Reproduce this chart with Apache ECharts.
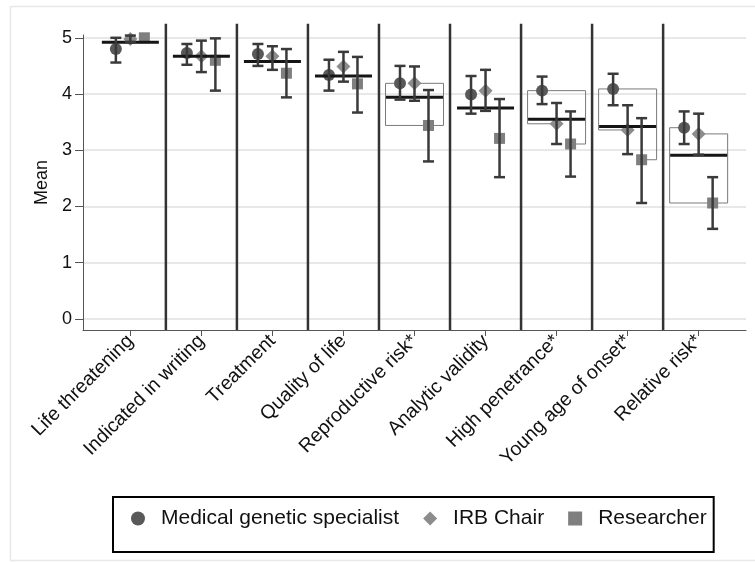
<!DOCTYPE html>
<html>
<head>
<meta charset="utf-8">
<title>Mean rating by criterion</title>
<script src="https://cdn.jsdelivr.net/npm/echarts@6/dist/echarts.min.js"></script>
<style>
html, body { margin: 0; padding: 0; background: #fff; }
#main { width: 755px; height: 562px; }
</style>
</head>
<body>
<div id="main"></div>
<script>
var categories = ['Life threatening', 'Indicated in writing', 'Treatment', 'Quality of life',
    'Reproductive risk*', 'Analytic validity', 'High penetrance*', 'Young age of onset*', 'Relative risk*'];

var groupNames = ['Medical genetic specialist', 'IRB Chair', 'Researcher'];

// Medical genetic specialist (circle)
var mgMean = [4.80, 4.73, 4.71, 4.34, 4.19, 3.99, 4.06, 4.09, 3.40];
var mgLow  = [4.56, 4.52, 4.50, 4.06, 3.90, 3.65, 3.82, 3.80, 3.11];
var mgHigh = [5.00, 4.89, 4.89, 4.61, 4.50, 4.32, 4.31, 4.36, 3.69];

// IRB Chair (diamond)
var irbMean = [4.98, 4.67, 4.67, 4.49, 4.19, 4.06, 3.47, 3.36, 3.29];
var irbLow  = [4.92, 4.39, 4.43, 4.22, 3.88, 3.70, 3.11, 2.93, 2.92];
var irbHigh = [5.04, 4.95, 4.85, 4.75, 4.49, 4.43, 3.84, 3.80, 3.65];

// Researcher (square)
var resMean = [5.00, 4.60, 4.37, 4.18, 3.44, 3.21, 3.11, 2.83, 2.06];
var resLow  = [null, 4.06, 3.94, 3.67, 2.80, 2.52, 2.53, 2.06, 1.60];
var resHigh = [null, 4.99, 4.80, 4.66, 4.07, 3.91, 3.69, 3.57, 2.52];

// mean of all respondents
var overallMean = [4.92, 4.67, 4.58, 4.32, 3.94, 3.75, 3.55, 3.42, 2.91];

var yTicks = [0, 1, 2, 3, 4, 5];

// significant pairs (group indexes) shown with a bracket left / right of the category
var leftPairs  = [null, null, null, null, [0, 2], null, [0, 1], [0, 1], [0, 2]];
var rightPairs = [null, null, null, null, [1, 2], null, [0, 2], [0, 2], [1, 2]];

var FONT = '"Liberation Sans", Arial, sans-serif';
var shift = [-14.5, 0, 14];       // px offset of each group inside a category
var means = [mgMean, irbMean, resMean];
var xTicks = categories.map(function (c, i) { return i + 1; });

var chart = echarts.init(document.getElementById('main'));

function errorBars(low, high, dx) {
    var data = [];
    for (var i = 0; i < categories.length; i++) {
        if (low[i] != null) data.push([i + 1, low[i], high[i]]);
    }
    return {
        type: 'custom', z: 6, silent: true, data: data,
        encode: {x: 0, y: [1, 2]},
        renderItem: function (params, api) {
            var top = api.coord([api.value(0), api.value(2)]);
            var bot = api.coord([api.value(0), api.value(1)]);
            var x = top[0] + dx;
            var st = {stroke: '#3a3a3a', lineWidth: 2.5};
            return {type: 'group', children: [
                {type: 'line', shape: {x1: x, y1: top[1], x2: x, y2: bot[1]}, style: st},
                {type: 'line', shape: {x1: x - 5.5, y1: top[1], x2: x + 5.5, y2: top[1]}, style: st},
                {type: 'line', shape: {x1: x - 5.5, y1: bot[1], x2: x + 5.5, y2: bot[1]}, style: st}
            ]};
        }
    };
}

function brackets(pairs, side) {
    var data = [];
    for (var i = 0; i < pairs.length; i++) {
        if (pairs[i]) {
            var a = pairs[i][0], b = pairs[i][1];
            data.push([i + 1, means[a][i], means[b][i], a, b]);
        }
    }
    return {
        type: 'custom', z: 1, silent: true, data: data,
        encode: {x: 0, y: [1, 2]},
        renderItem: function (params, api) {
            var pa = api.coord([api.value(0), api.value(1)]);
            var pb = api.coord([api.value(0), api.value(2)]);
            var bx = pa[0] + side * 29;
            var xa = pa[0] + shift[api.value(3)];
            var xb = pa[0] + shift[api.value(4)];
            return {
                type: 'polyline',
                shape: {points: [[xa, pa[1]], [bx, pa[1]], [bx, pb[1]], [xb, pb[1]]]},
                style: {stroke: '#7a7a7a', lineWidth: 1, fill: null}
            };
        }
    };
}

function markers(k, symbol, size, color) {
    return {
        name: groupNames[k], type: 'scatter', z: 4, silent: true,
        symbol: symbol, symbolSize: size, symbolOffset: [shift[k], 0],
        symbolKeepAspect: true,
        itemStyle: {color: color, opacity: 1},
        data: means[k].map(function (v, i) { return [i + 1, v]; })
    };
}

var separators = categories.slice(1).map(function (c, i) { return [i + 1.5]; });

chart.setOption({
    animation: false,
    backgroundColor: '#fff',
    textStyle: {fontFamily: FONT},
    graphic: [{
        type: 'rect', silent: true, z: -1,
        shape: {x: 10.5, y: 6.5, width: 760, height: 554},
        style: {fill: null, stroke: '#e8e8e8', lineWidth: 1.5}
    }],
    grid: {left: 83, top: 35, right: 9, bottom: 232, outerBoundsMode: 'none'},
    legend: {
        left: 113, top: 497,
        itemWidth: 14, itemHeight: 14, itemGap: 24,
        symbolKeepAspect: true,
        padding: [11, 7, 23, 18],
        borderColor: '#000', borderWidth: 2,
        selectedMode: false,
        textStyle: {fontSize: 21, color: '#111', fontFamily: FONT, padding: [0, 0, 0, 11]},
        data: [
            {name: groupNames[0], icon: 'circle'},
            {name: groupNames[1], icon: 'diamond'},
            {name: groupNames[2], icon: 'rect'}
        ]
    },
    xAxis: {
        type: 'value', min: 1 / 3, max: 29 / 3,
        axisLine: {onZero: false, lineStyle: {color: '#555', width: 1}},
        axisTick: {customValues: xTicks, length: 6, lineStyle: {color: '#555'}},
        axisLabel: {
            customValues: xTicks, rotate: 45, margin: 8,
            fontSize: 19.5, color: '#111', fontFamily: FONT,
            formatter: function (v) { return categories[Math.round(v) - 1]; }
        },
        splitLine: {show: false}
    },
    yAxis: {
        type: 'value', min: -0.2, max: 5.05,
        name: 'Mean', nameLocation: 'middle', nameGap: 31,
        nameTextStyle: {fontSize: 18, color: '#111', fontFamily: FONT},
        axisLine: {show: true, onZero: false, lineStyle: {color: '#555', width: 1}},
        axisTick: {show: true, customValues: yTicks, length: 8, lineStyle: {color: '#555'}},
        axisLabel: {customValues: yTicks, margin: 11, fontSize: 18, color: '#111', fontFamily: FONT},
        splitLine: {show: true, lineStyle: {color: '#e8e8e8', width: 2}}
    },
    series: [
        brackets(leftPairs, -1),
        brackets(rightPairs, 1),
        {
            type: 'custom', z: 3, silent: true, data: separators, clip: false,
            encode: {x: 0},
            renderItem: function (params, api) {
                var p1 = api.coord([api.value(0), -0.2]);
                var p2 = api.coord([api.value(0), 5.25]);
                return {type: 'line', shape: {x1: p1[0], y1: p1[1], x2: p2[0], y2: p2[1]},
                    style: {stroke: '#333', lineWidth: 2.5}};
            }
        },
        markers(0, 'circle', 12, '#595959'),
        markers(1, 'diamond', 14, '#8c8c8c'),
        markers(2, 'rect', 11, '#7f7f7f'),
        {
            type: 'custom', z: 5, silent: true,
            data: overallMean.map(function (v, i) { return [i + 1, v]; }),
            encode: {x: 0, y: 1},
            renderItem: function (params, api) {
                var p = api.coord([api.value(0), api.value(1)]);
                return {type: 'line', shape: {x1: p[0] - 28.5, y1: p[1], x2: p[0] + 28.5, y2: p[1]},
                    style: {stroke: '#151515', lineWidth: 3}};
            }
        },
        errorBars(mgLow, mgHigh, shift[0]),
        errorBars(irbLow, irbHigh, shift[1]),
        errorBars(resLow, resHigh, shift[2])
    ]
});
</script>
</body>
</html>
